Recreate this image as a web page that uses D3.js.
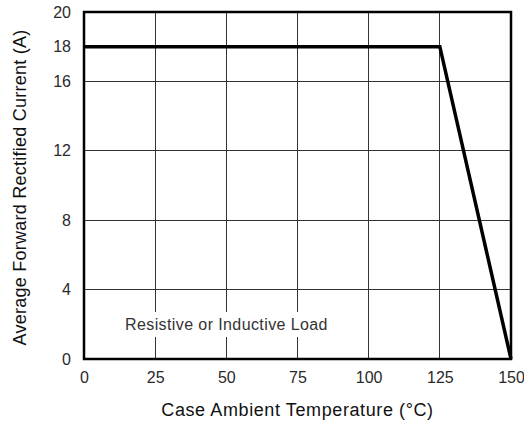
<!DOCTYPE html>
<html><head><meta charset="utf-8">
<script src="https://cdn.jsdelivr.net/npm/d3@7"></script>
<style>body{margin:0;background:#fff}svg{display:block}text{font-family:"Liberation Sans",Arial,Helvetica,sans-serif}</style>
</head><body><svg id="c" width="524" height="424"></svg>
<script>
const xTicks = [0, 25, 50, 75, 100, 125, 150];
const yTicks = [0, 4, 8, 12, 16, 18, 20];
const yGrid = [4, 8, 12, 16];
const temps = [0, 125, 150];
const currents = [18, 18, 0];

const m = {l: 84, r: 13, t: 12, b: 65};
const W = 524, H = 424;
const svg = d3.select("#c");
const x = d3.scaleLinear().domain([0, 150]).range([m.l, W - m.r]);
const y = d3.scaleLinear().domain([0, 20]).range([H - m.b, m.t]);

const g = svg.append("g");
g.selectAll(".vg").data(xTicks.slice(1, -1)).join("line")
  .attr("x1", d => x(d)).attr("x2", d => x(d)).attr("y1", y(0)).attr("y2", y(20))
  .attr("stroke", "#333").attr("stroke-width", 1).attr("shape-rendering", "crispEdges");
g.selectAll(".hg").data(yGrid).join("line")
  .attr("x1", x(0)).attr("x2", x(150)).attr("y1", d => y(d)).attr("y2", d => y(d))
  .attr("stroke", "#333").attr("stroke-width", 1).attr("shape-rendering", "crispEdges");

const ann = g.append("text").attr("x", 125).attr("y", 330).attr("font-size", 16).attr("letter-spacing", 0.4).attr("fill", "#333")
  .text("Resistive or Inductive Load");
const bb = ann.node().getBBox();
g.insert("rect", "text").attr("x", bb.x - 3).attr("y", 312).attr("width", bb.width + 5).attr("height", 25).attr("fill", "#fff");

g.append("rect").attr("x", x(0)).attr("y", y(20)).attr("width", x(150) - x(0)).attr("height", y(0) - y(20))
  .attr("fill", "none").attr("stroke", "#000").attr("stroke-width", 2.5);

const line = d3.line().x((d, i) => x(temps[i])).y(d => y(d));
g.append("path").datum(currents).attr("d", line).attr("fill", "none").attr("stroke", "#000").attr("stroke-width", 3.5);

const xa = d3.axisBottom(x).tickValues(xTicks).tickSize(0).tickPadding(13);
svg.append("g").attr("transform", `translate(0,${y(0)})`).call(xa)
  .call(s => s.select(".domain").remove())
  .call(s => s.selectAll("text").attr("font-size", 16).attr("fill", "#2a2a2a").attr("font-family", null));
const ya = d3.axisLeft(y).tickValues(yTicks).tickSize(0).tickPadding(13);
svg.append("g").attr("transform", `translate(${x(0)},0)`).call(ya)
  .call(s => s.select(".domain").remove())
  .call(s => s.selectAll("text").attr("font-size", 16).attr("fill", "#2a2a2a").attr("font-family", null));

svg.append("text").attr("x", (x(0) + x(150)) / 2).attr("y", 416).attr("text-anchor", "middle")
  .attr("font-size", 18).attr("letter-spacing", 0.6).attr("fill", "#111").text("Case Ambient Temperature (°C)");
svg.append("text").attr("transform", `translate(26,${(y(0) + y(20)) / 2 + 2}) rotate(-90)`).attr("text-anchor", "middle")
  .attr("font-size", 18).attr("letter-spacing", 0.25).attr("fill", "#111").text("Average Forward Rectified Current (A)");
</script></body></html>
